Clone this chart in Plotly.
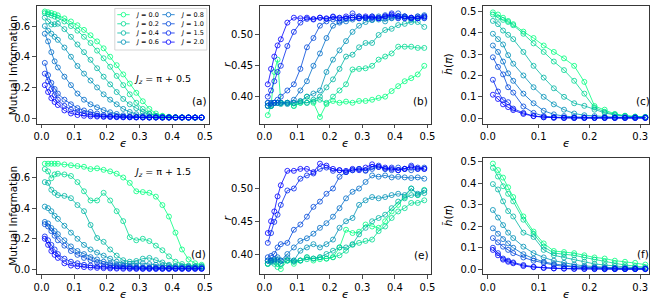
import plotly.graph_objects as go

W, H = 664, 305

# ---------------- data ----------------
J_LABELS = ["0.0", "0.2", "0.4", "0.6", "0.8", "1.0", "1.5", "2.0"]

EPS = [0.01, 0.02, 0.03, 0.04, 0.05, 0.07, 0.09, 0.11, 0.13, 0.15, 0.17, 0.19, 0.21, 0.23,
       0.25, 0.27, 0.29, 0.31, 0.33, 0.35, 0.37, 0.39, 0.41, 0.43, 0.45, 0.47, 0.49]
EPS_SHORT = [0.01, 0.02, 0.03, 0.04, 0.05, 0.07, 0.09, 0.11, 0.13, 0.15, 0.17, 0.19, 0.21,
             0.23, 0.25, 0.27, 0.29, 0.31]

# (a) Mutual information, Jz = pi + 0.5
mi_a = [
    [0.695, 0.69, 0.685, 0.678, 0.67, 0.65, 0.63, 0.605, 0.575, 0.54, 0.50, 0.455, 0.40, 0.345, 0.285, 0.225, 0.165, 0.11, 0.06, 0.03, 0.015, 0.009, 0.006, 0.005, 0.005, 0.004, 0.004],
    [0.684, 0.678, 0.67, 0.662, 0.652, 0.63, 0.60, 0.57, 0.53, 0.49, 0.44, 0.39, 0.335, 0.275, 0.215, 0.155, 0.10, 0.06, 0.03, 0.015, 0.01, 0.007, 0.005, 0.005, 0.004, 0.004, 0.004],
    [0.655, 0.63, 0.61, 0.612, 0.615, 0.58, 0.53, 0.48, 0.43, 0.38, 0.325, 0.27, 0.22, 0.17, 0.125, 0.09, 0.065, 0.04, 0.025, 0.015, 0.01, 0.007, 0.005, 0.004, 0.004, 0.004, 0.003],
    [0.60, 0.57, 0.55, 0.53, 0.51, 0.46, 0.40, 0.34, 0.29, 0.245, 0.20, 0.155, 0.12, 0.09, 0.06, 0.04, 0.025, 0.015, 0.01, 0.007, 0.005, 0.004, 0.004, 0.003, 0.003, 0.003, 0.003],
    [0.55, 0.50, 0.43, 0.37, 0.33, 0.27, 0.215, 0.16, 0.12, 0.09, 0.07, 0.052, 0.038, 0.027, 0.018, 0.012, 0.008, 0.006, 0.004, 0.004, 0.003, 0.003, 0.003, 0.003, 0.003, 0.003, 0.003],
    [0.36, 0.28, 0.23, 0.19, 0.16, 0.12, 0.09, 0.065, 0.05, 0.04, 0.03, 0.02, 0.015, 0.012, 0.01, 0.008, 0.007, 0.006, 0.005, 0.005, 0.004, 0.004, 0.004, 0.004, 0.004, 0.004, 0.004],
    [0.29, 0.24, 0.19, 0.15, 0.12, 0.08, 0.055, 0.04, 0.03, 0.022, 0.016, 0.012, 0.01, 0.008, 0.007, 0.006, 0.005, 0.005, 0.004, 0.004, 0.004, 0.004, 0.004, 0.004, 0.004, 0.004, 0.004],
    [0.215, 0.17, 0.13, 0.105, 0.085, 0.05, 0.03, 0.02, 0.015, 0.012, 0.01, 0.008, 0.007, 0.006, 0.005, 0.005, 0.004, 0.004, 0.004, 0.004, 0.004, 0.004, 0.004, 0.004, 0.004, 0.004, 0.004],
]

# (b) level-spacing ratio r, Jz = pi + 0.5
r_b = [
    [0.37, 0.385, 0.44, 0.46, 0.39, 0.39, 0.385, 0.39, 0.40, 0.39, 0.367, 0.388, 0.393, 0.39, 0.392, 0.39, 0.393, 0.393, 0.395, 0.398, 0.40, 0.409, 0.417, 0.425, 0.43, 0.436, 0.45],
    [0.385, 0.385, 0.39, 0.39, 0.39, 0.39, 0.385, 0.39, 0.39, 0.392, 0.395, 0.39, 0.40, 0.41, 0.42, 0.444, 0.445, 0.446, 0.45, 0.46, 0.465, 0.47, 0.481, 0.481, 0.481, 0.479, 0.479],
    [0.39, 0.385, 0.39, 0.39, 0.388, 0.39, 0.39, 0.392, 0.39, 0.395, 0.40, 0.415, 0.428, 0.445, 0.465, 0.468, 0.48, 0.487, 0.487, 0.50, 0.508, 0.51, 0.516, 0.518, 0.521, 0.521, 0.513],
    [0.385, 0.385, 0.39, 0.39, 0.39, 0.388, 0.39, 0.393, 0.40, 0.405, 0.41, 0.44, 0.46, 0.475, 0.49, 0.505, 0.515, 0.521, 0.524, 0.525, 0.522, 0.527, 0.53, 0.528, 0.525, 0.527, 0.53],
    [0.385, 0.388, 0.39, 0.39, 0.39, 0.39, 0.395, 0.41, 0.425, 0.45, 0.47, 0.495, 0.515, 0.52, 0.522, 0.525, 0.527, 0.528, 0.525, 0.53, 0.527, 0.53, 0.528, 0.53, 0.527, 0.53, 0.532],
    [0.39, 0.39, 0.39, 0.395, 0.40, 0.41, 0.42, 0.445, 0.48, 0.495, 0.515, 0.522, 0.525, 0.522, 0.527, 0.528, 0.53, 0.527, 0.53, 0.528, 0.532, 0.528, 0.535, 0.53, 0.527, 0.53, 0.527],
    [0.40, 0.41, 0.425, 0.44, 0.45, 0.482, 0.505, 0.52, 0.526, 0.525, 0.528, 0.526, 0.53, 0.528, 0.527, 0.535, 0.53, 0.528, 0.53, 0.527, 0.53, 0.535, 0.527, 0.53, 0.528, 0.527, 0.528],
    [0.42, 0.445, 0.465, 0.483, 0.493, 0.52, 0.528, 0.527, 0.528, 0.526, 0.528, 0.527, 0.529, 0.527, 0.53, 0.528, 0.527, 0.53, 0.528, 0.527, 0.53, 0.533, 0.53, 0.527, 0.528, 0.527, 0.53],
]

# (c) h~(pi), Jz = pi + 0.5
h_c = [
    [0.495, 0.485, 0.47, 0.455, 0.44, 0.405, 0.375, 0.34, 0.31, 0.28, 0.245, 0.17, 0.057, 0.04, 0.02, 0.012, 0.008, 0.006],
    [0.485, 0.47, 0.46, 0.45, 0.435, 0.395, 0.35, 0.31, 0.265, 0.225, 0.175, 0.115, 0.05, 0.03, 0.018, 0.01, 0.006, 0.005],
    [0.455, 0.44, 0.41, 0.39, 0.37, 0.31, 0.245, 0.19, 0.14, 0.10, 0.07, 0.058, 0.04, 0.025, 0.015, 0.01, 0.006, 0.005],
    [0.395, 0.37, 0.345, 0.295, 0.255, 0.20, 0.145, 0.10, 0.065, 0.04, 0.022, 0.014, 0.01, 0.007, 0.005, 0.005, 0.005, 0.005],
    [0.34, 0.31, 0.265, 0.21, 0.175, 0.115, 0.07, 0.035, 0.018, 0.01, 0.006, 0.004, 0.003, 0.003, 0.003, 0.003, 0.003, 0.003],
    [0.285, 0.24, 0.205, 0.145, 0.12, 0.055, 0.025, 0.01, 0.005, 0.003, 0.002, 0.002, 0.002, 0.002, 0.002, 0.002, 0.002, 0.002],
    [0.18, 0.125, 0.085, 0.075, 0.045, 0.025, 0.01, 0.005, 0.003, 0.002, 0.002, 0.002, 0.002, 0.002, 0.002, 0.002, 0.002, 0.002],
    [0.11, 0.09, 0.065, 0.052, 0.038, 0.02, 0.01, 0.004, 0.002, 0.001, 0.001, 0.001, 0.001, 0.001, 0.001, 0.001, 0.001, 0.001],
]

# (d) Mutual information, Jz = pi + 1.5
mi_d = [
    [0.69, 0.69, 0.69, 0.69, 0.69, 0.685, 0.68, 0.675, 0.67, 0.655, 0.66, 0.65, 0.64, 0.625, 0.60, 0.565, 0.51, 0.505, 0.50, 0.475, 0.42, 0.345, 0.24, 0.13, 0.065, 0.04, 0.03],
    [0.655, 0.64, 0.595, 0.62, 0.625, 0.62, 0.61, 0.57, 0.51, 0.45, 0.45, 0.50, 0.45, 0.38, 0.315, 0.21, 0.19, 0.20, 0.185, 0.155, 0.125, 0.085, 0.05, 0.035, 0.025, 0.02, 0.02],
    [0.57, 0.565, 0.52, 0.50, 0.485, 0.48, 0.465, 0.42, 0.38, 0.29, 0.205, 0.18, 0.13, 0.09, 0.06, 0.05, 0.055, 0.07, 0.075, 0.06, 0.045, 0.03, 0.02, 0.018, 0.016, 0.015, 0.015],
    [0.41, 0.40, 0.38, 0.35, 0.33, 0.285, 0.24, 0.20, 0.16, 0.13, 0.11, 0.09, 0.07, 0.05, 0.04, 0.035, 0.04, 0.04, 0.035, 0.03, 0.025, 0.022, 0.02, 0.02, 0.02, 0.02, 0.02],
    [0.31, 0.30, 0.27, 0.25, 0.23, 0.19, 0.15, 0.12, 0.10, 0.08, 0.065, 0.05, 0.04, 0.03, 0.025, 0.02, 0.018, 0.015, 0.013, 0.012, 0.011, 0.01, 0.01, 0.01, 0.01, 0.01, 0.01],
    [0.295, 0.28, 0.25, 0.22, 0.19, 0.155, 0.12, 0.095, 0.075, 0.06, 0.045, 0.035, 0.028, 0.022, 0.018, 0.015, 0.012, 0.01, 0.01, 0.009, 0.009, 0.008, 0.008, 0.008, 0.008, 0.008, 0.008],
    [0.215, 0.19, 0.16, 0.13, 0.10, 0.07, 0.05, 0.04, 0.03, 0.025, 0.02, 0.016, 0.013, 0.011, 0.01, 0.008, 0.007, 0.006, 0.006, 0.005, 0.005, 0.005, 0.005, 0.005, 0.005, 0.005, 0.005],
    [0.20, 0.16, 0.12, 0.095, 0.075, 0.04, 0.025, 0.02, 0.015, 0.012, 0.01, 0.008, 0.006, 0.005, 0.004, 0.004, 0.003, 0.003, 0.003, 0.003, 0.003, 0.003, 0.003, 0.003, 0.003, 0.003, 0.003],
]

# (e) level-spacing ratio r, Jz = pi + 1.5
r_e = [
    [0.385, 0.39, 0.39, 0.385, 0.377, 0.39, 0.385, 0.39, 0.395, 0.39, 0.392, 0.393, 0.395, 0.41, 0.437, 0.432, 0.434, 0.445, 0.442, 0.44, 0.45, 0.465, 0.475, 0.487, 0.50, 0.49, 0.498],
    [0.385, 0.39, 0.385, 0.38, 0.385, 0.39, 0.39, 0.39, 0.392, 0.393, 0.395, 0.393, 0.395, 0.398, 0.405, 0.414, 0.417, 0.42, 0.422, 0.435, 0.442, 0.455, 0.465, 0.47, 0.478, 0.478, 0.482],
    [0.385, 0.39, 0.388, 0.39, 0.385, 0.39, 0.388, 0.39, 0.395, 0.393, 0.395, 0.40, 0.405, 0.41, 0.41, 0.415, 0.43, 0.44, 0.45, 0.455, 0.46, 0.47, 0.48, 0.485, 0.49, 0.49, 0.493],
    [0.39, 0.388, 0.39, 0.392, 0.39, 0.395, 0.39, 0.405, 0.41, 0.415, 0.41, 0.415, 0.422, 0.44, 0.45, 0.455, 0.475, 0.482, 0.487, 0.485, 0.487, 0.49, 0.492, 0.49, 0.50, 0.492, 0.497],
    [0.39, 0.39, 0.392, 0.395, 0.39, 0.40, 0.41, 0.42, 0.424, 0.431, 0.44, 0.447, 0.457, 0.47, 0.485, 0.495, 0.50, 0.51, 0.52, 0.518, 0.52, 0.517, 0.518, 0.517, 0.516, 0.517, 0.515],
    [0.395, 0.397, 0.40, 0.41, 0.415, 0.417, 0.437, 0.445, 0.457, 0.472, 0.48, 0.492, 0.50, 0.518, 0.525, 0.528, 0.53, 0.527, 0.53, 0.533, 0.53, 0.528, 0.532, 0.53, 0.528, 0.53, 0.532],
    [0.417, 0.432, 0.449, 0.46, 0.475, 0.497, 0.50, 0.515, 0.52, 0.523, 0.53, 0.532, 0.527, 0.528, 0.525, 0.528, 0.53, 0.528, 0.533, 0.535, 0.53, 0.532, 0.528, 0.53, 0.535, 0.532, 0.53],
    [0.432, 0.45, 0.465, 0.488, 0.505, 0.527, 0.527, 0.53, 0.53, 0.525, 0.538, 0.535, 0.53, 0.528, 0.527, 0.53, 0.528, 0.532, 0.537, 0.533, 0.532, 0.53, 0.528, 0.53, 0.533, 0.53, 0.53],
]

# (f) h~(pi), Jz = pi + 1.5
h_f = [
    [0.49, 0.46, 0.425, 0.38, 0.335, 0.245, 0.175, 0.12, 0.085, 0.08, 0.075, 0.065, 0.055, 0.05, 0.04, 0.035, 0.03, 0.022],
    [0.47, 0.43, 0.385, 0.35, 0.315, 0.23, 0.165, 0.105, 0.075, 0.07, 0.065, 0.055, 0.045, 0.035, 0.028, 0.02, 0.015, 0.01],
    [0.395, 0.37, 0.315, 0.27, 0.245, 0.17, 0.15, 0.09, 0.065, 0.055, 0.045, 0.035, 0.025, 0.02, 0.015, 0.01, 0.007, 0.005],
    [0.275, 0.24, 0.205, 0.17, 0.145, 0.105, 0.075, 0.055, 0.04, 0.03, 0.022, 0.016, 0.012, 0.009, 0.007, 0.006, 0.005, 0.005],
    [0.19, 0.165, 0.14, 0.12, 0.10, 0.07, 0.05, 0.035, 0.025, 0.018, 0.013, 0.01, 0.008, 0.006, 0.005, 0.004, 0.003, 0.003],
    [0.145, 0.125, 0.105, 0.09, 0.075, 0.055, 0.04, 0.03, 0.02, 0.014, 0.01, 0.008, 0.006, 0.004, 0.003, 0.002, 0.002, 0.002],
    [0.10, 0.075, 0.05, 0.04, 0.032, 0.02, 0.012, 0.008, 0.005, 0.004, 0.003, 0.002, 0.002, 0.001, 0.001, 0.001, 0.001, 0.001],
    [0.09, 0.065, 0.045, 0.035, 0.028, 0.015, 0.01, 0.006, 0.004, 0.003, 0.002, 0.002, 0.001, 0.001, 0.001, 0.001, 0.001, 0.001],
]

# ---------------- styling ----------------
FONT = "DejaVu Sans"
ALPHA = 0.8


def winter(i, n=8):
    t = 1 - i / (n - 1)
    return (0, round(255 * t), round(255 * (1 - 0.5 * t)))


COLORS = ["rgba(%d,%d,%d,%.2f)" % (*winter(i), ALPHA) for i in range(8)]


def fx(p):  # page pixel -> paper fraction
    return p / W


def fy(p):
    return 1 - p / H


panels = [
    dict(x=EPS, ys=mi_a, px=(34, 208), py=(4, 123), xr=[-0.015, 0.512], yr=[-0.037, 0.731],
         xt=[0, 0.1, 0.2, 0.3, 0.4, 0.5], yt=[0, 0.2, 0.4, 0.6], yf=".1f"),
    dict(x=EPS, ys=r_b, px=(259.3, 433), py=(4, 123), xr=[-0.0152, 0.512], yr=[0.356, 0.547],
         xt=[0, 0.1, 0.2, 0.3, 0.4, 0.5], yt=[0.40, 0.45, 0.50], yf=".2f"),
    dict(x=EPS_SHORT, ys=h_c, px=(485, 653), py=(4, 123), xr=[-0.0097, 0.3175], yr=[-0.026, 0.525],
         xt=[0, 0.1, 0.2, 0.3], yt=[0, 0.1, 0.2, 0.3, 0.4, 0.5], yf=".1f"),
    dict(x=EPS, ys=mi_d, px=(34, 208), py=(157.3, 275), xr=[-0.015, 0.512], yr=[-0.032, 0.729],
         xt=[0, 0.1, 0.2, 0.3, 0.4, 0.5], yt=[0, 0.2, 0.4, 0.6], yf=".1f"),
    dict(x=EPS, ys=r_e, px=(259.3, 433), py=(157.3, 275), xr=[-0.0152, 0.512], yr=[0.369, 0.547],
         xt=[0, 0.1, 0.2, 0.3, 0.4, 0.5], yt=[0.40, 0.45, 0.50], yf=".2f"),
    dict(x=EPS_SHORT, ys=h_f, px=(485, 653), py=(157.3, 275), xr=[-0.0097, 0.3175], yr=[-0.023, 0.517],
         xt=[0, 0.1, 0.2, 0.3], yt=[0, 0.1, 0.2, 0.3, 0.4, 0.5], yf=".1f"),
]

fig = go.Figure()
layout = dict(
    width=W, height=H, margin=dict(l=0, r=0, t=0, b=0, pad=0),
    paper_bgcolor="white", plot_bgcolor="white", showlegend=False,
    font=dict(family=FONT, color="black"),
)

axis_common = dict(
    showline=True, mirror=True, linecolor="#222", linewidth=0.9,
    ticks="outside", ticklen=3.5, tickwidth=0.8, tickcolor="#222",
    showgrid=False, zeroline=False, fixedrange=True,
    tickfont=dict(family=FONT, size=10, color="black"),
)

for k, p in enumerate(panels, start=1):
    suffix = "" if k == 1 else str(k)
    for i, ys in enumerate(p["ys"]):
        fig.add_trace(go.Scatter(
            x=p["x"], y=ys, mode="lines+markers", name="J = " + J_LABELS[i],
            xaxis="x" + suffix, yaxis="y" + suffix,
            line=dict(color=COLORS[i], width=1),
            marker=dict(symbol="circle-open", size=5, color=COLORS[i], line=dict(width=1, color=COLORS[i])),
        ))
    layout["xaxis" + suffix] = dict(
        axis_common, domain=[fx(p["px"][0]), fx(p["px"][1])], range=p["xr"],
        tickvals=p["xt"], tickformat=".1f", anchor="y" + suffix)
    layout["yaxis" + suffix] = dict(
        axis_common, domain=[fy(p["py"][1]), fy(p["py"][0])], range=p["yr"],
        tickvals=p["yt"], tickformat=p["yf"], anchor="x" + suffix)

annotations = []


def text(x, y, s, size=10, angle=0, xanchor="center"):
    annotations.append(dict(
        x=fx(x), y=fy(y), xref="paper", yref="paper", text=s, showarrow=False,
        textangle=angle, xanchor=xanchor, yanchor="middle",
        font=dict(family=FONT, size=size, color="black")))


# axis titles
text(10, 64, "Mutual Information", size=10.5, angle=-90)
text(10, 216, "Mutual Information", size=10.5, angle=-90)
text(227, 63, "<i>r</i>", size=11, angle=-90)
text(227, 218, "<i>r</i>", size=11, angle=-90)
text(450, 63, "<i>h̃</i>(<i>π</i>)", size=10.5, angle=-90)
text(450, 216, "<i>h̃</i>(<i>π</i>)", size=10.5, angle=-90)
for xc, yc in [(121.5, 143), (346, 143), (569, 143), (121.5, 295), (346, 295), (569, 295)]:
    text(xc, yc, "<i>ϵ</i>", size=11)

# panel labels
for (xc, yc), lab in zip([(199, 100), (422, 100), (647, 100), (198, 255), (423, 256), (647, 255)],
                         ["(a)", "(b)", "(c)", "(d)", "(e)", "(f)"]):
    text(xc, yc, lab, size=10.5)

text(161, 78, "<i>J<sub>z</sub></i> = π + 0.5", size=9.5)
text(161, 172, "<i>J<sub>z</sub></i> = π + 1.5", size=9.5)

# legend (drawn as frame + sample line/marker + text)
shapes = [dict(type="rect", xref="paper", yref="paper", x0=fx(113), x1=fx(206), y0=fy(48.5), y1=fy(6.5),
               line=dict(color="#cccccc", width=0.8), fillcolor="rgba(255,255,255,0.8)", layer="above")]
rows = [12.8, 22.0, 31.3, 40.5]
cols = [(115.5, 128, 131.5), (161, 173.5, 177)]
for i, lab in enumerate(J_LABELS):
    c = cols[i // 4]
    yy = rows[i % 4]
    shapes.append(dict(type="line", xref="paper", yref="paper", x0=fx(c[0]), x1=fx(c[1]), y0=fy(yy), y1=fy(yy),
                       line=dict(color=COLORS[i], width=1), layer="above"))
    cx = (c[0] + c[1]) / 2
    shapes.append(dict(type="circle", xref="paper", yref="paper", x0=fx(cx - 2.3), x1=fx(cx + 2.3),
                       y0=fy(yy + 2.3), y1=fy(yy - 2.3), line=dict(color=COLORS[i], width=1),
                       fillcolor="white", layer="above"))
    text(c[2], yy, "<i>J</i> = " + lab, size=6.5, xanchor="left")

layout["annotations"] = annotations
layout["shapes"] = shapes
fig.update_layout(**layout)
# remove the browser's default 8px body margin so the 664x305 figure fills the window exactly
fig.write_html("out.html", config={"displayModeBar": False, "staticPlot": True},
               post_script="document.body.style.margin='0';document.body.style.overflow='hidden';")
